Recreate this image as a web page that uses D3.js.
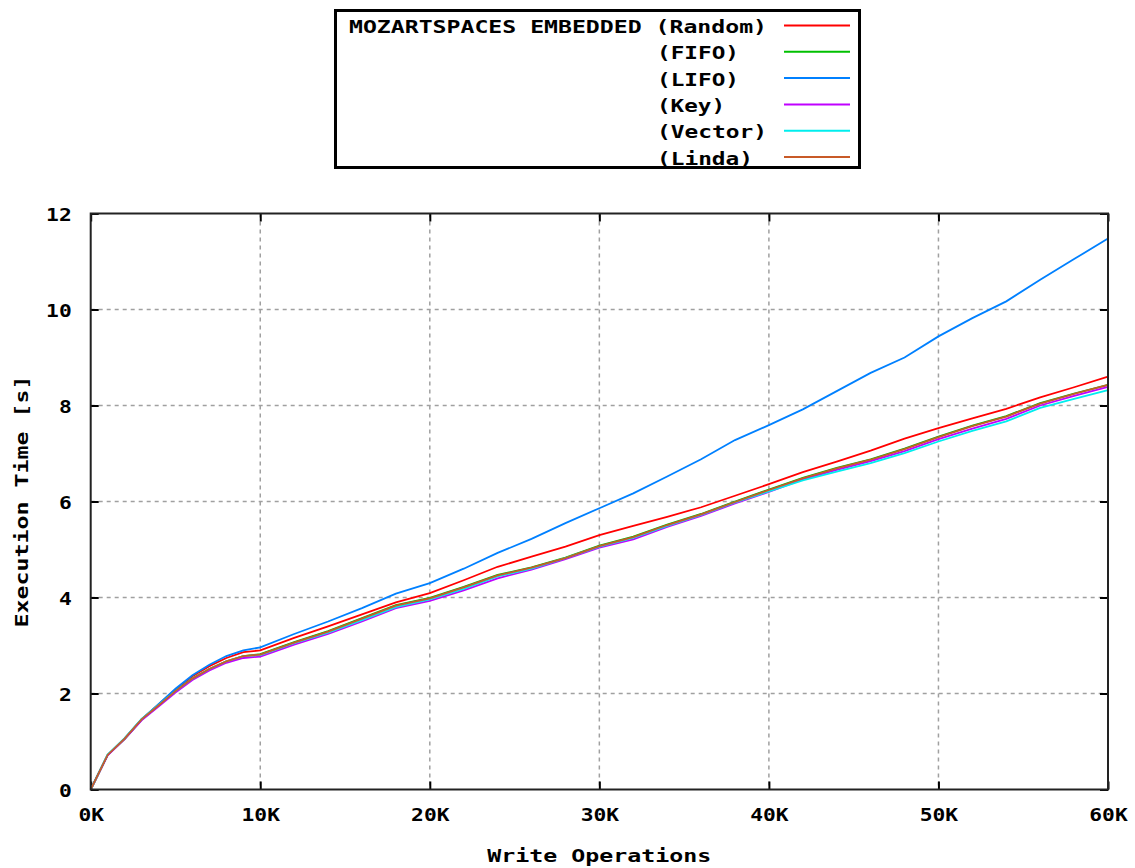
<!DOCTYPE html>
<html>
<head>
<meta charset="utf-8">
<script src="https://cdn.jsdelivr.net/npm/d3@7"></script>
<style>
  body { margin: 0; background: #fff; }
  text { font-family: "DejaVu Sans Mono", monospace; font-weight: bold; fill: #000; }
</style>
</head>
<body>
<div id="line-chart"></div>
<script>
// write operations, in thousands
const ops = [0, 1, 2, 3, 4, 5, 6, 7, 8, 9, 10, 12, 14, 16, 18, 20, 22, 24, 26, 28, 30,
    32, 34, 36, 38, 40, 42, 44, 46, 48, 50, 52, 54, 56, 58, 60];

// execution time in seconds
const randomTimes = [0, 0.72, 1.06, 1.46, 1.77, 2.08, 2.36, 2.57, 2.74, 2.86, 2.90,
    3.16, 3.40, 3.65, 3.90, 4.09, 4.36, 4.64, 4.85, 5.06, 5.30, 5.49, 5.68, 5.88, 6.12,
    6.36, 6.61, 6.83, 7.06, 7.31, 7.53, 7.73, 7.93, 8.17, 8.38, 8.60];
const fifoTimes = [0, 0.72, 1.05, 1.45, 1.75, 2.05, 2.31, 2.51, 2.67, 2.78, 2.82,
    3.07, 3.30, 3.57, 3.84, 3.99, 4.22, 4.47, 4.63, 4.83, 5.08, 5.27, 5.52, 5.74, 6.00,
    6.25, 6.49, 6.70, 6.88, 7.10, 7.35, 7.58, 7.78, 8.05, 8.25, 8.43];
const lifoTimes = [0, 0.72, 1.06, 1.46, 1.78, 2.10, 2.38, 2.60, 2.78, 2.90, 2.96,
    3.24, 3.50, 3.78, 4.08, 4.30, 4.60, 4.93, 5.22, 5.55, 5.86, 6.17, 6.52, 6.88, 7.28,
    7.59, 7.92, 8.30, 8.68, 9.00, 9.44, 9.82, 10.17, 10.62, 11.05, 11.48];
const keyTimes = [0, 0.71, 1.05, 1.44, 1.73, 2.02, 2.28, 2.48, 2.64, 2.74, 2.77,
    3.02, 3.24, 3.50, 3.78, 3.93, 4.15, 4.40, 4.58, 4.80, 5.04, 5.21, 5.47, 5.70, 5.96,
    6.20, 6.46, 6.66, 6.84, 7.05, 7.30, 7.52, 7.72, 8.00, 8.20, 8.39];
const vectorTimes = [0, 0.73, 1.07, 1.47, 1.76, 2.05, 2.31, 2.51, 2.67, 2.78, 2.80,
    3.05, 3.27, 3.53, 3.80, 3.96, 4.18, 4.44, 4.60, 4.82, 5.06, 5.24, 5.49, 5.72, 5.98,
    6.21, 6.44, 6.62, 6.80, 7.01, 7.25, 7.47, 7.67, 7.95, 8.14, 8.32];
const lindaTimes = [0, 0.72, 1.06, 1.46, 1.75, 2.05, 2.31, 2.51, 2.67, 2.78, 2.81,
    3.06, 3.29, 3.56, 3.83, 3.98, 4.21, 4.46, 4.62, 4.82, 5.07, 5.26, 5.51, 5.73, 5.99,
    6.24, 6.48, 6.69, 6.87, 7.09, 7.34, 7.57, 7.77, 8.04, 8.24, 8.43];

const seriesNames = ["MOZARTSPACES EMBEDDED (Random)", "(FIFO)", "(LIFO)", "(Key)", "(Vector)", "(Linda)"];
const seriesValues = [randomTimes, fifoTimes, lifoTimes, keyTimes, vectorTimes, lindaTimes];
const colors = ["#ff0000", "#00c000", "#0080ff", "#c000ff", "#00eeee", "#c85a28"];

const xTicks = [0, 10, 20, 30, 40, 50, 60];
const yTicks = [0, 2, 4, 6, 8, 10, 12];

const drawLineChart = () => {
    const margin = { top: 213.5, right: 27, bottom: 78.5, left: 90.7 };
    const width = 1135;
    const height = 868;
    const innerWidth = width - margin.left - margin.right;
    const innerHeight = height - margin.top - margin.bottom;
    const gridColor = "#a0a0a0";
    const fontSize = 18.5;

    const svg = d3.select("#line-chart")
        .append("svg")
        .attr("width", width)
        .attr("height", height)
        .attr("viewBox", `0, 0, ${width}, ${height}`);

    const innerChart = svg.append("g")
        .attr("transform", `translate(${margin.left}, ${margin.top})`);

    const xScale = d3.scaleLinear().domain([0, 60]).range([0, innerWidth]);
    const yScale = d3.scaleLinear().domain([0, 12]).range([innerHeight, 0]);

    // grid
    innerChart.append("g")
        .selectAll("line.gx")
        .data(xTicks.slice(1, -1))
        .join("line")
        .attr("x1", d => xScale(d)).attr("x2", d => xScale(d))
        .attr("y1", 0).attr("y2", innerHeight)
        .attr("stroke", gridColor).attr("stroke-width", 1.5)
        .attr("stroke-dasharray", "4,4");
    innerChart.append("g")
        .selectAll("line.gy")
        .data(yTicks.slice(1, -1))
        .join("line")
        .attr("x1", 0).attr("x2", innerWidth)
        .attr("y1", d => yScale(d)).attr("y2", d => yScale(d))
        .attr("stroke", gridColor).attr("stroke-width", 1.5)
        .attr("stroke-dasharray", "4,4");

    // axes, ticks pointing inward on all four sides
    const tickLen = 8;
    const bottomAxis = d3.axisBottom(xScale).tickValues(xTicks).tickSize(-tickLen).tickFormat(d => d + "K").tickPadding(18);
    const topAxis = d3.axisTop(xScale).tickValues(xTicks).tickSize(-tickLen).tickFormat("");
    const leftAxis = d3.axisLeft(yScale).tickValues(yTicks).tickSize(-tickLen).tickPadding(19);
    const rightAxis = d3.axisRight(yScale).tickValues(yTicks).tickSize(-tickLen).tickFormat("");

    innerChart.append("g").attr("class", "axis-x")
        .attr("transform", `translate(0, ${innerHeight})`).call(bottomAxis);
    innerChart.append("g").attr("class", "axis-top").call(topAxis);
    innerChart.append("g").attr("class", "axis-yl").call(leftAxis);
    innerChart.append("g").attr("class", "axis-yr")
        .attr("transform", `translate(${innerWidth}, 0)`).call(rightAxis);

    innerChart.selectAll(".domain").remove();
    innerChart.selectAll(".tick line").attr("stroke", "#000").attr("stroke-width", 2);
    innerChart.selectAll(".tick text")
        .attr("font-family", "DejaVu Sans Mono")
        .attr("font-weight", "bold")
        .attr("font-size", fontSize)
        .attr("fill", "#000")
        .attr("textLength", function () { return this.textContent.length * 12.8; })
        .attr("lengthAdjust", "spacingAndGlyphs");
    innerChart.selectAll(".axis-x .tick text").attr("dy", "0.71em");
    innerChart.selectAll(".axis-yl .tick text").attr("dy", "0.36em");

    // lines
    const line = d3.line()
        .x((d, i) => xScale(ops[i]))
        .y(d => yScale(d));

    innerChart.append("g")
        .selectAll("path")
        .data(seriesValues)
        .join("path")
        .attr("d", d => line(d))
        .attr("fill", "none")
        .attr("stroke", (d, i) => colors[i])
        .attr("stroke-width", 1.8);

    // frame
    innerChart.append("rect")
        .attr("width", innerWidth).attr("height", innerHeight)
        .attr("fill", "none").attr("stroke", "#222").attr("stroke-width", 2);

    // axis titles
    svg.append("text")
        .text("Write Operations")
        .attr("x", margin.left + innerWidth / 2)
        .attr("y", 862)
        .attr("text-anchor", "middle")
        .attr("font-size", fontSize)
        .attr("textLength", 16 * 14)
        .attr("lengthAdjust", "spacingAndGlyphs");

    svg.append("text")
        .text("Execution Time [s]")
        .attr("transform", `translate(28, ${margin.top + innerHeight / 2}) rotate(-90)`)
        .attr("text-anchor", "middle")
        .attr("font-size", fontSize)
        .attr("textLength", 18 * 14)
        .attr("lengthAdjust", "spacingAndGlyphs");

    // legend
    const legend = svg.append("g").attr("class", "legend");
    legend.append("rect")
        .attr("x", 335.5).attr("y", 10.5)
        .attr("width", 524).attr("height", 157)
        .attr("fill", "#fff").attr("stroke", "#000").attr("stroke-width", 3);

    const rowY = d3.scaleLinear().domain([0, 1]).range([25.5, 51.8]);
    const charW = 14;
    const textX = 349;

    seriesNames.forEach((name, i) => {
        const x = i === 0 ? textX : textX + 22 * charW;
        legend.append("text")
            .text(name)
            .attr("x", x)
            .attr("y", rowY(i) + 7.5)
            .attr("font-size", fontSize)
            .attr("textLength", name.length * charW - 2)
            .attr("lengthAdjust", "spacingAndGlyphs");
        legend.append("line")
            .attr("x1", 784).attr("x2", 850)
            .attr("y1", rowY(i)).attr("y2", rowY(i))
            .attr("stroke", colors[i]).attr("stroke-width", 2);
    });
};

drawLineChart();
</script>
</body>
</html>
